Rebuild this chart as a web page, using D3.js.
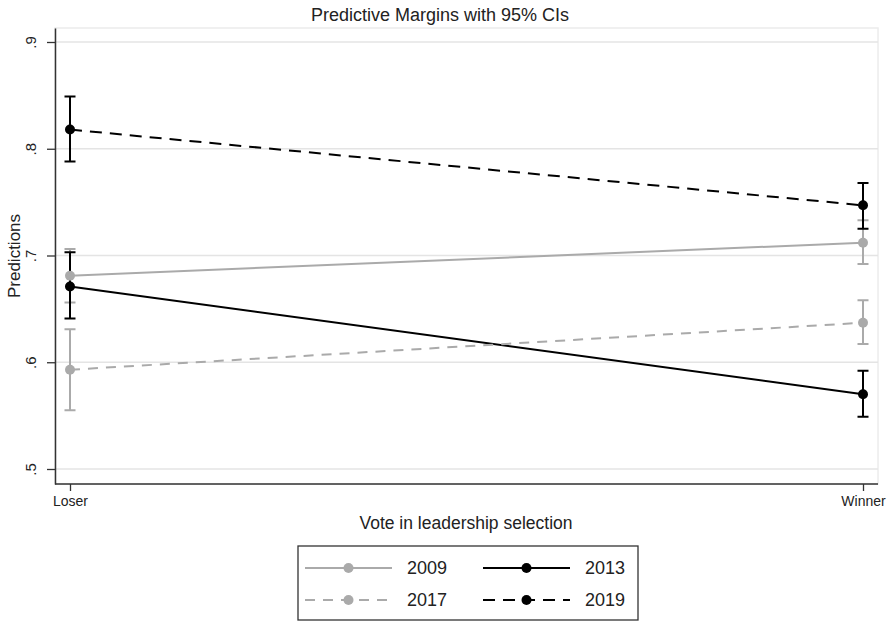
<!DOCTYPE html>
<html>
<head>
<meta charset="utf-8">
<script src="https://cdn.jsdelivr.net/npm/d3@7"></script>
<style>
  body { margin: 0; background: #fff; }
  text { font-family: "Liberation Sans", Arial, sans-serif; fill: #222; }
</style>
</head>
<body>
<div class="chart"></div>
<script>
////////////////
// Data
////////////////

// x categories
const categories = ['Loser', 'Winner']
// one series per survey year
const years = ['2009', '2013', '2017', '2019']
// predicted margins, [Loser, Winner] per year
const estimates = [[0.681, 0.712], [0.671, 0.570], [0.593, 0.637], [0.818, 0.747]]
// 95% CI bounds
const lower = [[0.656, 0.692], [0.641, 0.549], [0.555, 0.617], [0.788, 0.725]]
const upper = [[0.706, 0.733], [0.703, 0.592], [0.631, 0.658], [0.849, 0.768]]
// y ticks
const yTicks = [0.5, 0.6, 0.7, 0.8, 0.9]
const yTickLabels = ['.5', '.6', '.7', '.8', '.9']

// look of each series (not data)
const look = {
  '2009': {color: '#aaaaaa', dash: null},
  '2013': {color: '#000000', dash: null},
  '2017': {color: '#aaaaaa', dash: '10,8'},
  '2019': {color: '#000000', dash: '12,8'}
}

////////////////
// Setup
////////////////

const w = 891, h = 622
const plot = {left: 55, right: 878, top: 28, bottom: 484}

const svg = d3.select('div.chart')
  .append('svg')
  .attr('width', w)
  .attr('height', h)

// .5 sits at 469px, .9 at 42px; stretch the domain to the frame
const yBase = d3.scaleLinear().domain([0.5, 0.9]).range([469, 42])
const y = d3.scaleLinear()
  .domain([yBase.invert(plot.bottom), yBase.invert(plot.top)])
  .range([plot.bottom, plot.top])

const x = d3.scalePoint()
  .domain(categories)
  .range([plot.left, plot.right])
  .padding(15 / 793)

// frame (light top/right edges)
svg.append('rect')
  .attr('x', plot.left).attr('y', plot.top)
  .attr('width', plot.right - plot.left).attr('height', plot.bottom - plot.top)
  .attr('fill', 'none').attr('stroke', '#ececec').attr('stroke-width', 1.5)

// gridlines
svg.append('g').selectAll('line')
  .data(yTicks)
  .enter()
  .append('line')
  .attr('x1', plot.left).attr('x2', plot.right)
  .attr('y1', d => y(d)).attr('y2', d => y(d))
  .attr('stroke', '#e4e4e4').attr('stroke-width', 1.5)

// y axis
const yAxis = svg.append('g')
  .attr('transform', `translate(${plot.left},0)`)
  .call(d3.axisLeft(y).tickValues(yTicks).tickSize(8).tickSizeOuter(0)
    .tickFormat((d, i) => yTickLabels[i]))
yAxis.select('.domain').attr('stroke', '#333').attr('stroke-width', 1.5)
yAxis.selectAll('.tick line').attr('stroke', '#333').attr('stroke-width', 1.3)
yAxis.selectAll('.tick text')
  .attr('x', 0).attr('dy', 0)
  .attr('transform', 'translate(-19,0) rotate(-90)')
  .attr('text-anchor', 'middle')
  .attr('font-size', 15).attr('fill', '#333')

// x axis
const xAxis = svg.append('g')
  .attr('transform', `translate(0,${plot.bottom})`)
  .call(d3.axisBottom(x).tickSize(7).tickSizeOuter(0))
xAxis.select('.domain').attr('stroke', '#333').attr('stroke-width', 1.5)
  .attr('d', `M${plot.left},0H${plot.right}`)
xAxis.selectAll('.tick line').attr('stroke', '#333').attr('stroke-width', 1.3)
xAxis.selectAll('.tick text')
  .attr('y', 22).attr('dy', 0)
  .attr('font-size', 14).attr('fill', '#222')

// titles
svg.append('text')
  .attr('x', 440).attr('y', 21)
  .attr('text-anchor', 'middle')
  .attr('font-size', 18)
  .text('Predictive Margins with 95% CIs')

svg.append('text')
  .attr('x', 466).attr('y', 529)
  .attr('text-anchor', 'middle')
  .attr('font-size', 17.5)
  .text('Vote in leadership selection')

svg.append('text')
  .attr('transform', `translate(20,${(plot.top + plot.bottom) / 2}) rotate(-90)`)
  .attr('text-anchor', 'middle')
  .attr('font-size', 17)
  .text('Predictions')

////////////////
// Series
////////////////

const series = years.map((yr, i) => ({
  year: yr,
  points: categories.map((c, j) => ({cat: c, est: estimates[i][j], lo: lower[i][j], hi: upper[i][j]}))
}))

// CIs first (Stata draws rcaps under the lines)
const ci = svg.append('g').selectAll('g')
  .data(series)
  .enter()
  .append('g')
  .attr('stroke', d => look[d.year].color)
  .attr('stroke-width', 2)

ci.selectAll('path')
  .data(d => d.points)
  .enter()
  .append('path')
  .attr('fill', 'none')
  .attr('d', p => {
    const cx = x(p.cat), cap = 5.5
    return `M${cx - cap},${y(p.hi)}H${cx + cap}M${cx},${y(p.hi)}V${y(p.lo)}M${cx - cap},${y(p.lo)}H${cx + cap}`
  })

const line = d3.line().x(p => x(p.cat)).y(p => y(p.est))

const conn = svg.append('g').selectAll('g')
  .data(series)
  .enter()
  .append('g')

conn.append('path')
  .attr('d', d => line(d.points))
  .attr('fill', 'none')
  .attr('stroke', d => look[d.year].color)
  .attr('stroke-width', 2)
  .attr('stroke-dasharray', d => look[d.year].dash)

conn.selectAll('circle')
  .data(d => d.points.map(p => Object.assign({year: d.year}, p)))
  .enter()
  .append('circle')
  .attr('cx', p => x(p.cat))
  .attr('cy', p => y(p.est))
  .attr('r', 5)
  .attr('fill', p => look[p.year].color)

////////////////
// Legend
////////////////

const lg = svg.append('g')
lg.append('rect')
  .attr('x', 298).attr('y', 546).attr('width', 340).attr('height', 74)
  .attr('fill', '#fff').attr('stroke', '#333').attr('stroke-width', 1.3)

const items = lg.selectAll('g.item')
  .data(years)
  .enter()
  .append('g')
  .attr('class', 'item')
  .attr('transform', (d, i) => `translate(${i % 2 ? 483 : 305},${i < 2 ? 568 : 600})`)

items.append('line')
  .attr('x1', 0).attr('x2', 87)
  .attr('stroke', d => look[d].color)
  .attr('stroke-width', 2)
  .attr('stroke-dasharray', d => look[d].dash)
items.append('circle')
  .attr('cx', 43.5).attr('r', 5)
  .attr('fill', d => look[d].color)
items.append('text')
  .attr('x', 102).attr('dy', '0.36em')
  .attr('font-size', 18)
  .text(d => d)
</script>
</body>
</html>
